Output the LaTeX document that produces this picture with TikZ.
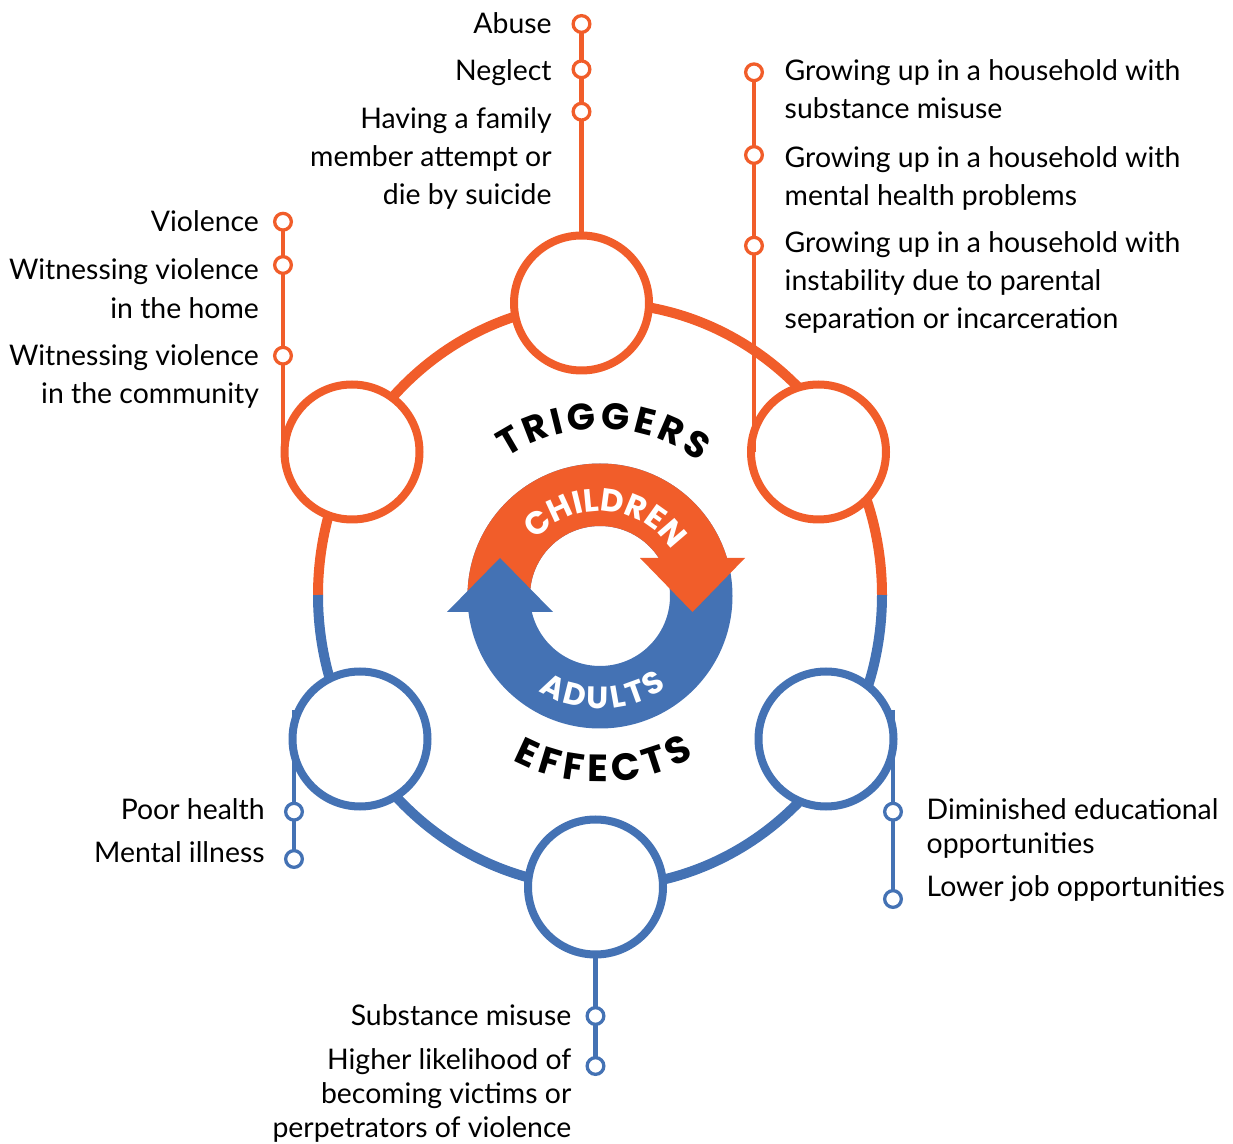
\documentclass[tikz,border=0pt]{standalone}
\usepackage{fontspec}
\setmainfont{Lato}
\newfontfamily\headfont{Poppins}
\usetikzlibrary{calc,decorations.text}

\definecolor{trigorange}{RGB}{241,93,42}
\definecolor{adultblue}{RGB}{68,114,180}

\begin{document}
\begin{tikzpicture}[x=0.5pt,y=0.5pt]
	\tikzset{
	    ringline/.style={line width=5pt},
	    bigcircle/.style={circle, draw=#1, fill=white, line width=4pt, minimum size=67.5pt, inner sep=0pt, outer sep=0pt},
	    dot/.style={circle, draw=#1, fill=white, line width=1.65pt, minimum size=8.35pt, inner sep=0pt, outer sep=0pt},
	    stem/.style={draw=#1, line width=2.2pt},
	    upper/.style={font=\fontsize{14.2}{19.15}\selectfont, inner sep=0pt},
	    lower/.style={font=\fontsize{14.2}{17}\selectfont, inner sep=0pt},
	    arctext/.style={decorate, decoration={text along path, text align={fit to path}, text={#1}}}
	}
	\useasboundingbox (0,0) rectangle (1233,-1144);

	% big ring
	\coordinate (ring) at (600,-595);
	\draw[ringline, trigorange] ($(ring)+(-282,0)$) arc[start angle=180, end angle=0, x radius=282, y radius=292];
	\draw[ringline, adultblue] ($(ring)+(282,0)$) arc[start angle=0, end angle=-180, x radius=282, y radius=292];

	\node[bigcircle=trigorange] (t1) at (581.5,-303) {};
	\node[bigcircle=trigorange] (t2) at (352,-452) {};
	\node[bigcircle=trigorange] (t3) at (818.5,-452) {};
	\node[bigcircle=adultblue] (e1) at (360,-739) {};
	\node[bigcircle=adultblue] (e2) at (826,-739) {};
	\node[bigcircle=adultblue] (e3) at (595.5,-887) {};

	% dots
	\node[dot=trigorange] (a1) at (581.5,-24) {};
	\node[dot=trigorange] (a2) at (581.5,-69.3) {};
	\node[dot=trigorange] (a3) at (581.5,-111.7) {};
	\node[dot=trigorange] (v1) at (283,-221.7) {};
	\node[dot=trigorange] (v2) at (283,-265) {};
	\node[dot=trigorange] (v3) at (283,-355.7) {};
	\node[dot=trigorange] (g1) at (754,-72.3) {};
	\node[dot=trigorange] (g2) at (754,-155) {};
	\node[dot=trigorange] (g3) at (754,-245.7) {};
	\node[dot=adultblue] (p1) at (294,-811.7) {};
	\node[dot=adultblue] (p2) at (294,-859) {};
	\node[dot=adultblue] (o1) at (893,-811.7) {};
	\node[dot=adultblue] (o2) at (893,-899) {};
	\node[dot=adultblue] (s1) at (595.5,-1016) {};
	\node[dot=adultblue] (s2) at (595.5,-1066) {};
	\coordinate (e1top) at (294,-710);
	\coordinate (e2top) at (893,-710);

	\draw[stem=trigorange] (t1.north) -- (a3) -- (a2) -- (a1);
	\draw[stem=trigorange] (v1) -- (v2) -- (v3) -- (v3 |- t2.west);
	\draw[stem=trigorange] (g1) -- (g2) -- (g3) -- (g3 |- t3.west);
	\draw[stem=adultblue] (e1top) -- (p1) -- (p2);
	\draw[stem=adultblue] (e2top) -- (o1) -- (o2);
	\draw[stem=adultblue] (e3.south) -- (s1) -- (s2);

	% labels (base = last line)
	\node[upper, anchor=base east] (abuse) at (552,-33.3) {Abuse};
	\node[upper, anchor=base east] (neglect) at (552,-81) {Neglect};
	\node[upper, anchor=base east, align=right] (suicide) at (552,-204.9) {Having a family\\member attempt or\\die by suicide};
	\node[upper, anchor=base east] (violence) at (259.3,-231.7) {Violence};
	\node[upper, anchor=base east, align=right] (home) at (259.3,-318.3) {Witnessing violence\\in the home};
	\node[upper, anchor=base east, align=right] (community) at (259.3,-404) {Witnessing violence\\in the community};
	\node[upper, anchor=base west, align=left] (substance) at (784.3,-119) {Growing up in a household with\\substance misuse};
	\node[upper, anchor=base west, align=left] (mental) at (784.3,-205.6) {Growing up in a household with\\mental health problems};
	\node[upper, anchor=base west, align=left] (instability) at (784.3,-329) {Growing up in a household with\\instability due to parental\\separation or incarceration};
	\node[lower, anchor=base east] (health) at (265,-819.3) {Poor health};
	\node[lower, anchor=base east] (illness) at (265,-862.7) {Mental illness};
	\node[lower, anchor=base west, align=left] (education) at (926.3,-853) {Diminished educational\\opportunities};
	\node[lower, anchor=base west] (jobs) at (926.3,-896.7) {Lower job opportunities};
	\node[lower, anchor=base east] (misuse) at (571.7,-1025.7) {Substance misuse};
	\node[lower, anchor=base east, align=right] (victims) at (571.7,-1137.3) {Higher likelihood of\\becoming victims or\\perpetrators of violence};

	% centre arrows
	\coordinate (mid) at (600,-596);
	\fill[adultblue, even odd rule] (mid) circle (132.5) (mid) circle (70);
	\begin{scope}
	    \clip (440,-440) -- (760,-440) -- (760,-558) -- (600,-558) -- (600,-612) -- (440,-612) -- cycle;
	    \fill[trigorange, even odd rule] (mid) circle (132.5) (mid) circle (70);
	\end{scope}
	\fill[trigorange] (640,-558) -- (745,-558) -- (692.5,-612) -- cycle;
	\fill[adultblue] (447,-612) -- (553,-612) -- (500,-558) -- cycle;

	\path[arctext={|\color{white}\headfont\bfseries\fontsize{16}{16}\selectfont|CHILDREN}] ($(mid)+(139:85)$) arc[start angle=139, end angle=37, radius=85];
	\path[arctext={|\color{white}\headfont\bfseries\fontsize{15.5}{15.5}\selectfont|ADULTS}] ($(mid)+(237:113)$) arc[start angle=237, end angle=306, radius=113];
	\path[arctext={|\headfont\bfseries\fontsize{18.5}{18.5}\selectfont|TRIGGERS}] ($(mid)+(124:167)$) arc[start angle=124, end angle=53.5, radius=167];
	\path[arctext={|\headfont\bfseries\fontsize{19}{19}\selectfont|EFFECTS}] ($(mid)+(242:186)$) arc[start angle=242, end angle=300.5, radius=186];
\end{tikzpicture}
\end{document}
